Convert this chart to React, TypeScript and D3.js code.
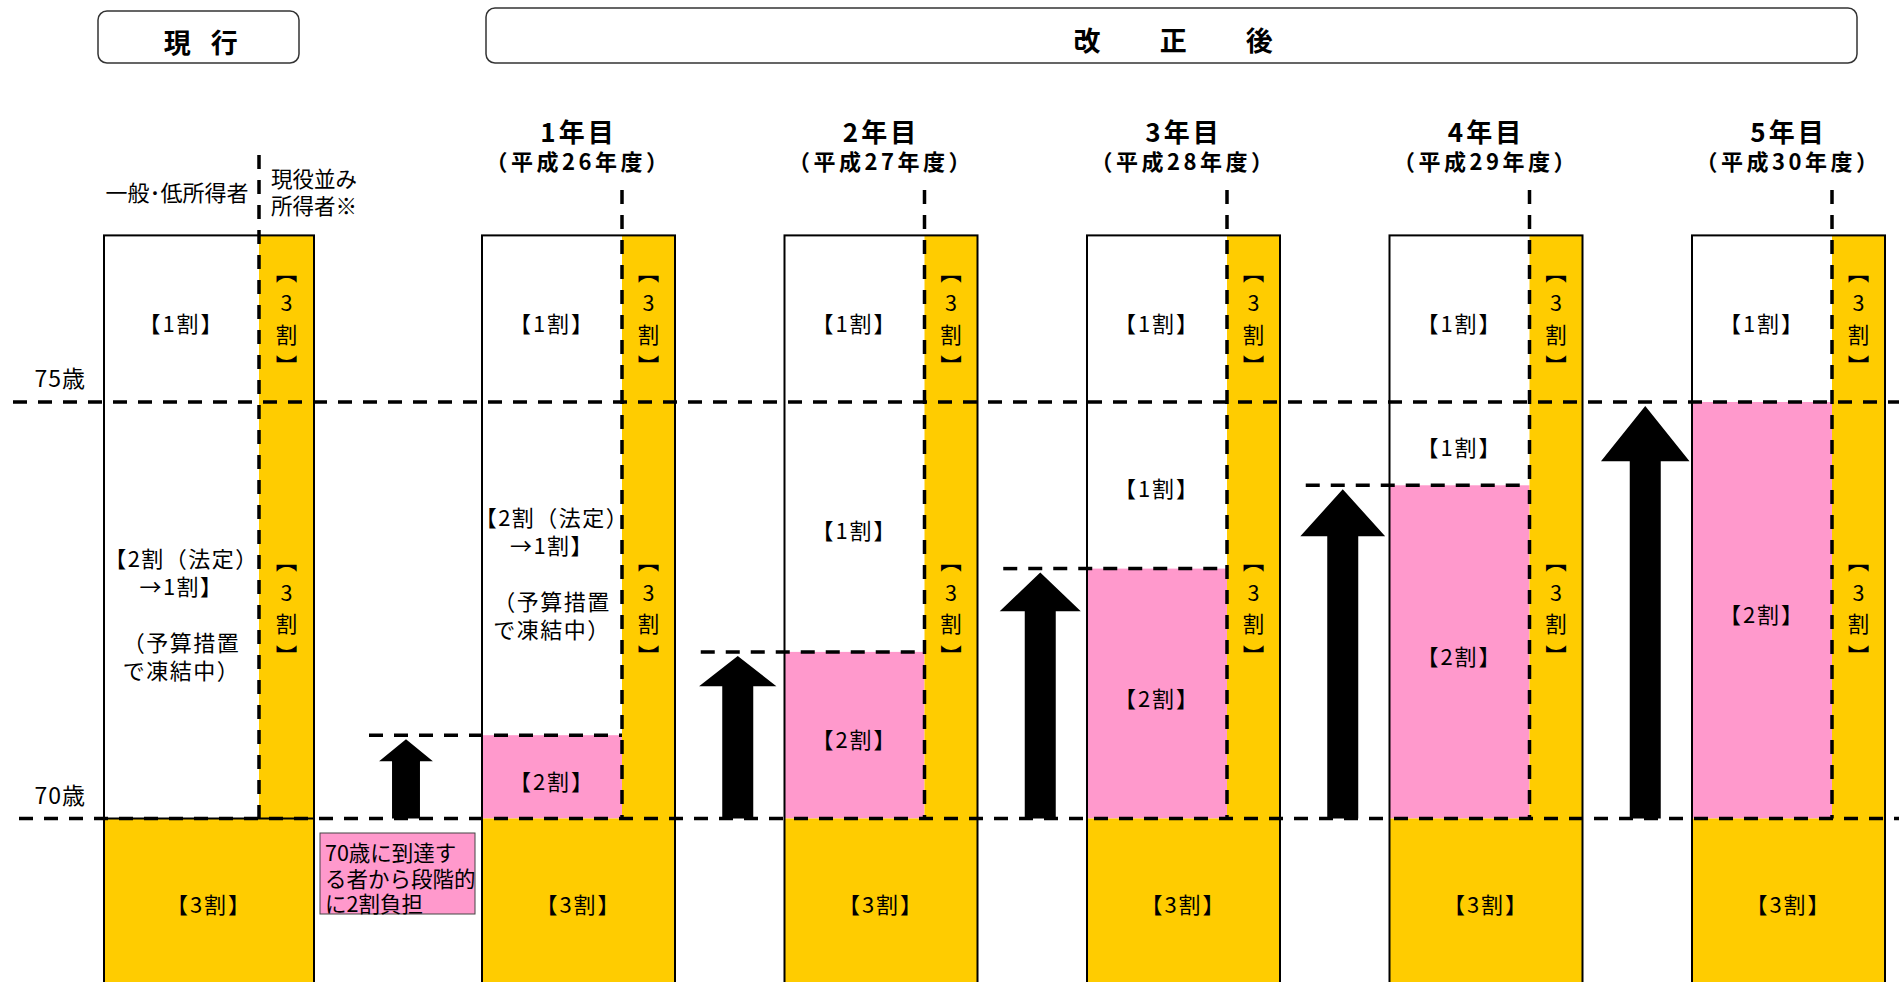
import React from 'react';
import * as d3 from 'd3';

// ---- data ----
const ageTicks = [70, 75];
const ageTickLabels = ['70歳', '75歳'];
const barTopAge = 77;
const barBottomAge = 65;
const yearLabels = ['1年目', '2年目', '3年目', '4年目', '5年目'];
const fiscalLabels = ['（平成26年度）', '（平成27年度）', '（平成28年度）', '（平成29年度）', '（平成30年度）'];
const pinkTopAges = [71, 72, 73, 74, 75];
const currentHeader = '現　行';
const revisedHeader = '改　　正　　後';
const generalLabel = '一般･低所得者';
const activeLabelLines = ['現役並み', '所得者※'];
const frozenLines = ['【2割（法定）', '→1割】', '', '（予算措置', 'で凍結中）'];
const noteLines = ['70歳に到達す', 'る者から段階的', 'に2割負担'];
const label1 = '【1割】';
const label2 = '【2割】';
const label3 = '【3割】';

// ---- styles ----
const YELLOW = '#FFCC00';
const PINK = '#FF99CC';
const FONT = "'Noto Sans CJK JP', 'Noto Sans CJK SC', sans-serif";
const DASH = '14 11';
const BODY = 22;

const W = 1899;
const H = 982;

const y = d3.scaleLinear().domain([70, 75]).range([818.5, 402]);
const xYear = d3.scaleLinear().domain([0, 4]).range([482, 1692]);

const cur = { left: 104, whiteW: 155, yellowW: 55 };
const yr = { whiteW: 140, yellowW: 53 };
const yrW = yr.whiteW + yr.yellowW;

function arrowPath(cx: number, tipY: number, baseY: number) {
  const len = baseY - tipY;
  const headH = 14 + 0.1 * len;
  const headW = Math.min(30 + 0.3 * len, 70 + 0.045 * len);
  const shaftW = Math.min(31, 20 + 0.1 * len);
  const hy = tipY + headH;
  const pts: [number, number][] = [
    [cx, tipY],
    [cx + headW / 2, hy],
    [cx + shaftW / 2, hy],
    [cx + shaftW / 2, baseY],
    [cx - shaftW / 2, baseY],
    [cx - shaftW / 2, hy],
    [cx - headW / 2, hy],
  ];
  return (d3.line()(pts) as string) + 'Z';
}

function VerticalLabel({ cx, cy }: { cx: number; cy: number }) {
  return (
    <text
      x={cx}
      y={cy}
      textAnchor="middle"
      fontSize={21.5}
      fontFamily={FONT}
      style={{ writingMode: 'vertical-rl', textOrientation: 'upright', letterSpacing: '10px' } as any}
    >
      {label3}
    </text>
  );
}

function Lines({ cx, cy, lines, lh, ls = 0, size = BODY, anchor = 'middle' }: { cx: number; cy: number; lines: string[]; lh: number; ls?: number; size?: number; anchor?: string }) {
  const n = lines.length;
  return (
    <text x={cx} textAnchor={anchor as any} dominantBaseline="central" fontSize={size} letterSpacing={ls} fontFamily={FONT}>
      {lines.map((l, i) => (
        <tspan key={i} x={cx} y={cy + (i - (n - 1) / 2) * lh}>
          {l || '\u00a0'}
        </tspan>
      ))}
    </text>
  );
}

function Label({ x, yy, text }: { x: number; yy: number; text: string }) {
  return (
    <text x={x} y={yy} textAnchor="middle" dominantBaseline="central" fontSize={BODY} letterSpacing={2} fontFamily={FONT}>
      {text}
    </text>
  );
}

export default function App() {
  const yTop = y(barTopAge);
  const yBottom = y(barBottomAge);
  const y70 = y(70);
  const y75 = y(75);

  const curDiv = cur.left + cur.whiteW;
  const curRight = curDiv + cur.yellowW;

  const years = yearLabels.map((lab, i) => {
    const left = xYear(i);
    const div = left + yr.whiteW;
    const right = left + yrW;
    const prevRight = i === 0 ? curRight : xYear(i - 1) + yrW;
    const arrowX = (prevRight + left) / 2 + 8;
    const pinkTop = y(pinkTopAges[i]);
    return { lab, i, left, div, right, arrowX, pinkTop };
  });

  const vUpper = (yTop + y75) / 2 + 5;
  const vLower = (y75 + y70) / 2 + 3;

  return (
    <svg width={W} height={H} viewBox={`0 0 ${W} ${H}`} style={{ position: 'absolute', left: 0, top: 0, display: 'block', background: '#fff' }}>
      <style>{`body{margin:0}`}</style>
      {/* header boxes */}
      <rect x={98} y={11} width={201} height={52} rx={9} fill="#fff" stroke="#333" strokeWidth={1.5} />
      <text x={199} y={41} textAnchor="middle" dominantBaseline="central" fontSize={27} fontWeight="bold" letterSpacing={-3.5} fontFamily={FONT}>
        {currentHeader}
      </text>
      <rect x={486} y={8} width={1371} height={55} rx={9} fill="#fff" stroke="#333" strokeWidth={1.5} />
      <text x={1174} y={39} textAnchor="middle" dominantBaseline="central" fontSize={27} fontWeight="bold" letterSpacing={1.7} fontFamily={FONT}>
        {revisedHeader}
      </text>

      {/* current bar */}
      <rect x={cur.left} y={yTop} width={cur.whiteW} height={y70 - yTop} fill="#fff" />
      <rect x={curDiv} y={yTop} width={cur.yellowW} height={yBottom - yTop} fill={YELLOW} />
      <rect x={cur.left} y={y70} width={curRight - cur.left} height={yBottom - y70} fill={YELLOW} />
      <rect x={cur.left} y={yTop} width={curRight - cur.left} height={yBottom - yTop} fill="none" stroke="#000" strokeWidth={2} />
      <line x1={cur.left} x2={curRight} y1={y70} y2={y70} stroke="#000" strokeWidth={2} />
      <Label x={(cur.left + curDiv) / 2} yy={(yTop + y75) / 2 + 3} text={label1} />
      <Lines cx={(cur.left + curDiv) / 2} cy={(y75 + y70) / 2 + 3} lines={frozenLines} lh={28} ls={1.5} />
      <VerticalLabel cx={curDiv + cur.yellowW / 2} cy={vUpper} />
      <VerticalLabel cx={curDiv + cur.yellowW / 2} cy={vLower} />
      <Label x={(cur.left + curRight) / 2} yy={903} text={label3} />
      <text x={177} y={191} textAnchor="middle" dominantBaseline="central" fontSize={BODY} fontFamily={FONT}>{generalLabel}</text>
      <Lines cx={271} cy={190.5} lines={activeLabelLines} lh={27} size={21.5} anchor="start" />

      {/* note box */}
      <rect x={320} y={833} width={155} height={81} fill={PINK} stroke="#444" strokeWidth={1} />
      <Lines cx={325} cy={876.5} lines={noteLines} lh={25.5} size={21.5} anchor="start" />

      {/* year bars */}
      {years.map((b) => (
        <g key={b.lab}>
          <rect x={b.left} y={yTop} width={yr.whiteW} height={y70 - yTop} fill="#fff" />
          <rect x={b.left} y={b.pinkTop} width={yr.whiteW} height={y70 - b.pinkTop} fill={PINK} />
          <rect x={b.div} y={yTop} width={yr.yellowW} height={yBottom - yTop} fill={YELLOW} />
          <rect x={b.left} y={y70} width={yrW} height={yBottom - y70} fill={YELLOW} />
          <rect x={b.left} y={yTop} width={yrW} height={yBottom - yTop} fill="none" stroke="#000" strokeWidth={2} />
          <text x={b.left + yrW / 2} y={130} textAnchor="middle" dominantBaseline="central" fontSize={26} letterSpacing={3} fontWeight="bold" fontFamily={FONT}>{b.lab}</text>
          <text x={b.left + yrW / 2} y={160} textAnchor="middle" dominantBaseline="central" fontSize={22} letterSpacing={3.5} fontWeight="bold" fontFamily={FONT}>{fiscalLabels[b.i]}</text>
          <Label x={b.left + yr.whiteW / 2} yy={(yTop + y75) / 2 + 3} text={label1} />
          {b.i === 0 ? (
            <Lines cx={b.left + yr.whiteW / 2} cy={(y75 + b.pinkTop) / 2 + 3} lines={frozenLines} lh={28} ls={1.5} />
          ) : b.pinkTop > y75 + 1 ? (
            <Label x={b.left + yr.whiteW / 2} yy={(y75 + b.pinkTop) / 2 + 2} text={label1} />
          ) : null}
          <Label x={b.left + yr.whiteW / 2} yy={(b.pinkTop + y70) / 2 + 3} text={label2} />
          <VerticalLabel cx={b.div + yr.yellowW / 2} cy={vUpper} />
          <VerticalLabel cx={b.div + yr.yellowW / 2} cy={vLower} />
          <Label x={b.left + yrW / 2} yy={903} text={label3} />
          <path d={arrowPath(b.arrowX, b.pinkTop + 4, y70)} fill="#000" />
        </g>
      ))}

      {/* dashed guide lines */}
      <line x1={13} x2={W} y1={y75} y2={y75} stroke="#000" strokeWidth={3.5} strokeDasharray={DASH} />
      <line x1={19} x2={W} y1={y70} y2={y70} stroke="#000" strokeWidth={3.5} strokeDasharray={DASH} />
      <line x1={curDiv} x2={curDiv} y1={155} y2={y70} stroke="#000" strokeWidth={3.5} strokeDasharray={DASH} />
      {years.map((b) => (
        <g key={'d' + b.lab}>
          <line x1={b.div} x2={b.div} y1={190} y2={y70} stroke="#000" strokeWidth={3.5} strokeDasharray={DASH} />
          {b.pinkTop > y75 + 1 && (
            <line x1={b.arrowX - 37} x2={b.div} y1={b.pinkTop} y2={b.pinkTop} stroke="#000" strokeWidth={3.5} strokeDasharray={DASH} />
          )}
        </g>
      ))}

      {/* age labels */}
      {ageTicks.map((a, i) => (
        <text key={a} x={86} y={y(a) - 25} textAnchor="end" dominantBaseline="central" fontSize={23} letterSpacing={1} fontFamily={FONT}>{ageTickLabels[i]}</text>
      ))}
    </svg>
  );
}
